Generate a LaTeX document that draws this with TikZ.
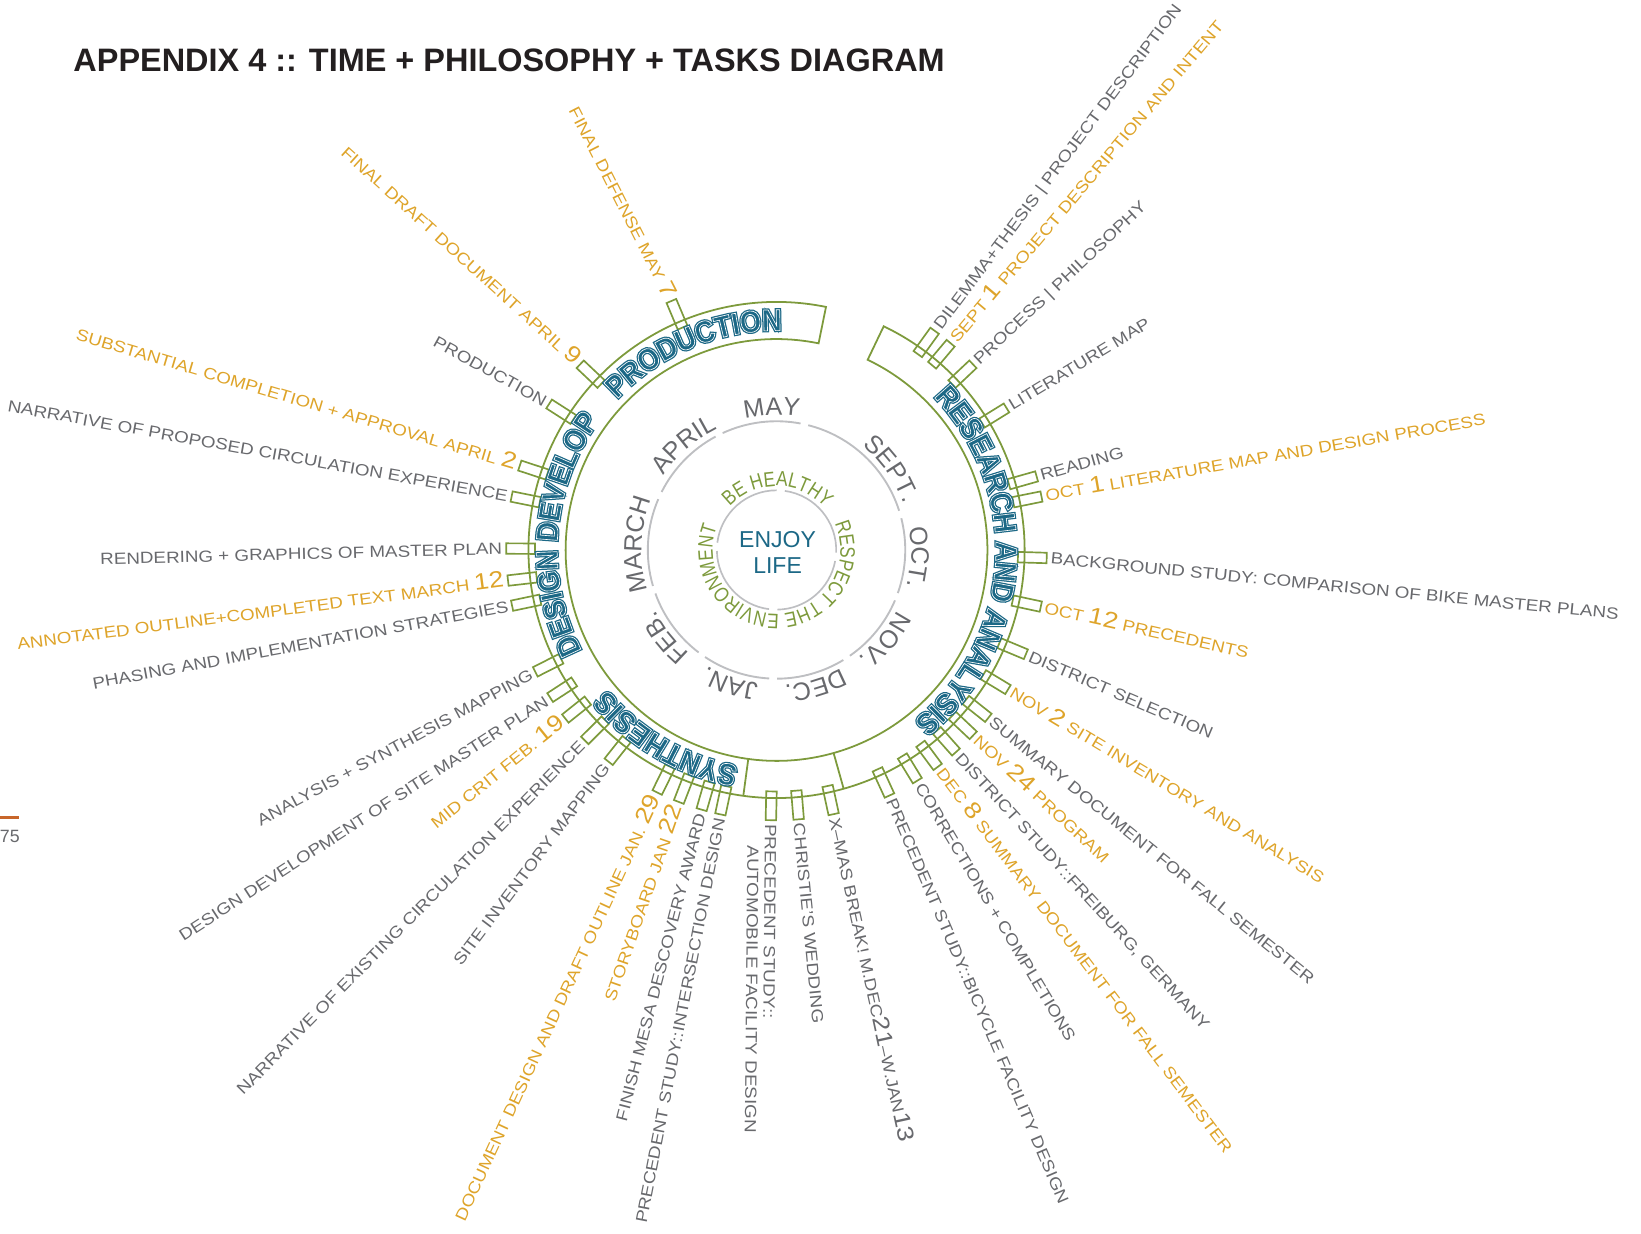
\documentclass[tikz,border=0pt]{standalone}
\usepackage{fontspec}
\setmainfont{Liberation Sans}
\newfontfamily\widefont{Liberation Sans}[FakeStretch=1.16]
\newfontfamily\philfont{Liberation Sans}[FakeStretch=0.82]
\newfontfamily\phasefont{Liberation Sans}[FakeStretch=0.9]
\usetikzlibrary{decorations.text,calc}
\definecolor{tgreen}{RGB}{125,154,60}
\definecolor{torange}{RGB}{222,164,42}
\definecolor{tgray}{RGB}{104,105,109}
\definecolor{tteal}{RGB}{28,104,134}
\definecolor{cgray}{RGB}{190,191,194}
\definecolor{ttitle}{RGB}{35,31,32}
\definecolor{tpage}{RGB}{200,102,42}
\newcommand\bignum[1]{{\fontsize{22}{22}\selectfont #1}}
\newcommand\phasefmtA{\color{tteal}\special{pdf:literal direct 2 Tr 3.0 w}\phasefont\bfseries\fontsize{29}{29}\selectfont}
\newcommand\phasefmtB{\color{white}\special{pdf:literal direct 1 Tr 0.6 w}\phasefont\bfseries\fontsize{29}{29}\selectfont}
\newcommand\monthfmt{\color{tgray}\fontsize{24}{24}\selectfont}
\newcommand\philfmt{\color{tgreen}\philfont\fontsize{20}{20}\selectfont}
\newcommand\taskR[5]{%
  \node[tbox,rotate=#2] (b#1) at (#2:244.5) {};
  \node[tlabel,text=#4,anchor=west,rotate=#3] (l#1) at (#2:262) {#5};}
\newcommand\taskL[5]{%
  \node[tbox,rotate=#2] (b#1) at (#2:244.5) {};
  \node[tlabel,text=#4,anchor=east,rotate=#3+180] (l#1) at (#2:262) {#5};}
\newcommand\arctext[4]{%
  \path[decorate,decoration={text along path,text align=center,text={#4}}]
    ({#2+#3}:#1) arc[start angle={#2+#3}, end angle={#2-#3}, radius=#1];}
\newcommand\phaselabel[4]{%
  \begin{scope}\arctext{#1}{#2}{#3}{|\phasefmtA|#4}\end{scope}
  \begin{scope}\arctext{#1}{#2}{#3}{|\phasefmtB|#4}\end{scope}}
\begin{document}
\begin{tikzpicture}[x=1pt,y=1pt,
  tbox/.style={draw=tgreen,line width=1.6pt,minimum width=27.5pt,minimum height=10pt,inner sep=0pt,rectangle},
  tlabel/.style={inner sep=0pt,text height=11pt,text depth=0pt,font=\widefont\fontsize{15.5}{17}\selectfont},
  ring/.style={draw=tgreen,line width=1.7pt},
  mcirc/.style={draw=cgray,line width=1.8pt},
  pcirc/.style={draw=cgray,line width=1.6pt}]
\useasboundingbox (-742,-653.5) rectangle (826,525.5);
% title and page number
\node[anchor=base west,inner sep=0pt,text=ttitle,font=\bfseries\fontsize{31}{31}\selectfont] (title) at (-672,457.5) {APPENDIX 4 :: TIME + PHILOSOPHY + TASKS DIAGRAM};
\draw[tpage,line width=2.5pt] (-742,-255.5) -- (-724,-255.5);
\node[anchor=base east,inner sep=0pt,text=tgray,font=\fontsize{17}{17}\selectfont] (pagenum) at (-723,-279.5) {75};
% phase ring
\draw[ring] (78.5:237) -- (78.5:201.5) arc[start angle=78.5,end angle=424.4,radius=201.5]
  -- (64.4:237) arc[start angle=64.4,end angle=-281.5,radius=237] -- cycle;
\draw[ring] (262.3:201.5) -- (262.3:237);
\draw[ring] (-74.3:201.5) -- (-74.3:237);
% month circle
\foreach \a/\b in {17.75/75.75,79.25/114.75,118.25/153.25,156.75/196.25,199.75/232.75,236.25/266.75,270.25/301.25,304.75/336.95,340.45/374.25}
  \draw[mcirc] (\a:123) arc[start angle=\a,end angle=\b,radius=123];
% philosophy circle
\foreach \a/\b in {90/173,181/262.8,270.8/349.4,357.4/442}
  \draw[pcirc] (\a:57) arc[start angle=\a,end angle=\b,radius=57];
% centre
\node[font=\fontsize{22}{25}\selectfont,text=tteal,align=center,inner sep=0pt] (enjoy) at (1,-2) {ENJOY\\LIFE};
\arctext{61}{89}{70}{|\philfmt|BE HEALTHY}
\arctext{61}{-88.5}{140}{|\philfmt|RESPECT THE ENVIRONMENT}
% months
\arctext{129}{92}{40}{|\monthfmt|MAY}
\arctext{129}{131.3}{40}{|\monthfmt|APRIL}
\arctext{129}{177.7}{40}{|\monthfmt|MARCH}
\arctext{129}{218.2}{40}{|\monthfmt|FEB.}
\arctext{129}{250.8}{40}{|\monthfmt|JAN.}
\arctext{129}{286.1}{40}{|\monthfmt|DEC.}
\arctext{129}{320.3}{40}{|\monthfmt|NOV.}
\arctext{129}{357}{40}{|\monthfmt|OCT.}
\arctext{129}{35.2}{40}{|\monthfmt|SEPT.}
% tasks, right side
\taskR{1}{54.2}{53.2}{tgray}{DILEMMA+THESIS | PROJECT DESCRIPTION}
\taskR{2}{49.9}{49.9}{torange}{SEPT \bignum{1} PROJECT DESCRIPTION AND INTENT}
\taskR{3}{43.4}{43.2}{tgray}{PROCESS | PHILOSOPHY}
\taskR{4}{31.7}{31.2}{tgray}{LITERATURE MAP}
\taskR{5}{15.8}{15.9}{tgray}{READING}
\taskR{6}{11.4}{9.9}{torange}{OCT \bignum{1} LITERATURE MAP AND DESIGN PROCESS}
\taskR{7}{-1.7}{-5.6}{tgray}{BACKGROUND STUDY: COMPARISON OF BIKE MASTER PLANS}
\taskR{8}{-12.1}{-12.5}{torange}{OCT \bignum{12} PRECEDENTS}
\taskR{9}{-22.7}{-23.1}{tgray}{DISTRICT SELECTION}
\taskR{10}{-31.1}{-31}{torange}{NOV \bignum{2} SITE INVENTORY AND ANALYSIS}
\taskR{11}{-38.4}{-39}{tgray}{SUMMARY DOCUMENT FOR FALL SEMESTER}
\taskR{12}{-43.3}{-43}{torange}{NOV \bignum{24} PROGRAM}
\taskR{13}{-48.4}{-47.6}{tgray}{DISTRICT STUDY::FREIBURG, GERMANY}
\taskR{14}{-53.4}{-52.8}{torange}{DEC \bignum{8} SUMMARY DOCUMENT FOR FALL SEMESTER}
\taskR{15}{-58.6}{-59.2}{tgray}{CORRECTIONS + COMPLETIONS}
\taskR{16}{-65.3}{-66.8}{tgray}{PRECEDENT STUDY::BICYCLE FACILITY DESIGN}
\taskR{17}{-77.8}{-77.7}{tgray}{X–MAS BREAK! M.DEC\bignum{21}–W.JAN\bignum{13}}
\taskR{18}{-85.3}{-84.5}{tgray}{CHRISTIE’S WEDDING}
\taskR{19}{-91.2}{-90.5}{tgray}{PRECEDENT STUDY::}
\node[tlabel,text=tgray,anchor=north west,rotate=-90.5] (l19b) at ($(l19.south west)+(-90.5:20.6)+(179.5:5.3)$) {AUTOMOBILE FACILITY DESIGN};
% tasks, left side
\taskL{20}{258.0}{259}{tgray}{PRECEDENT STUDY::INTERSECTION DESIGN}
\taskL{21}{253.9}{255.5}{tgray}{FINISH MESA DESCOVERY AWARD}
\taskL{22}{248.8}{250.8}{torange}{STORYBOARD JAN \bignum{22}}
\taskL{23}{243.8}{245.2}{torange}{DOCUMENT DESIGN AND DRAFT OUTLINE JAN. \bignum{29}}
\taskL{24}{231.6}{233}{tgray}{SITE INVENTORY MAPPING}
\taskL{25}{224.8}{225.5}{tgray}{NARRATIVE OF EXISTING CIRCULATION EXPERIENCE}
\taskL{26}{218.6}{218.8}{torange}{MID CRIT FEB. \bignum{19}}
\taskL{27}{213.1}{212.9}{tgray}{DESIGN DEVELOPMENT OF SITE MASTER PLAN}
\taskL{28}{206.8}{208.3}{tgray}{ANALYSIS + SYNTHESIS MAPPING}
\taskL{29}{191.9}{190.5}{tgray}{PHASING AND IMPLEMENTATION STRATEGIES}
\taskL{30}{186.5}{187.4}{torange}{ANNOTATED OUTLINE+COMPLETED TEXT MARCH \bignum{12}}
\taskL{31}{179.7}{181.5}{tgray}{RENDERING + GRAPHICS OF MASTER PLAN}
\taskL{32}{168.6}{169.8}{tgray}{NARRATIVE OF PROPOSED CIRCULATION EXPERIENCE}
\taskL{33}{161.8}{163.5}{torange}{SUBSTANTIAL COMPLETION + APPROVAL APRIL \bignum{2}}
\taskL{34}{147.3}{151}{tgray}{PRODUCTION}
\taskL{35}{136.6}{137.8}{torange}{FINAL DRAFT DOCUMENT APRIL \bignum{9}}
\taskL{36}{112.9}{117}{torange}{FINAL DEFENSE MAY \bignum{7}}
% phases (drawn last, outlined lettering)
\phaselabel{209.5}{112.6}{60}{PRODUCTION}
\phaselabel{209.5}{175.6}{70}{DESIGN DEVELOP}
\phaselabel{209.5}{-3.5}{80}{RESEARCH AND ANALYSIS}
\phaselabel{209.5}{239.7}{60}{SYNTHESIS}
\end{tikzpicture}
\end{document}
